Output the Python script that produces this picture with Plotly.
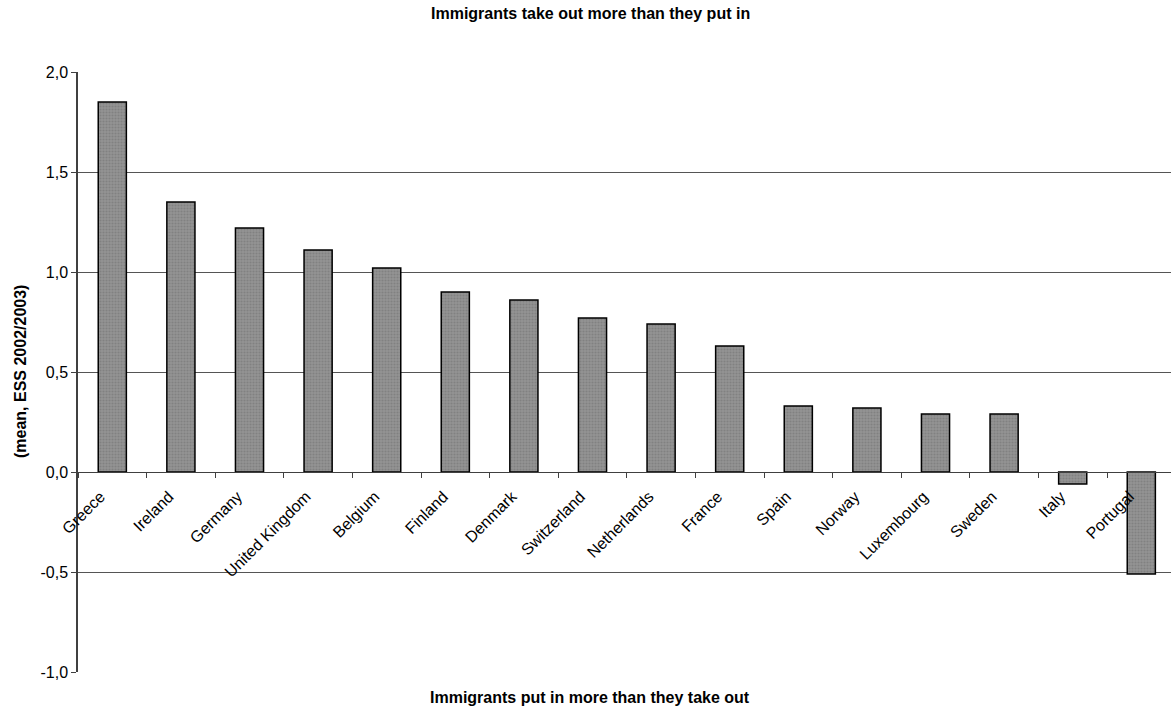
import plotly.graph_objects as go

countries = ["Greece", "Ireland", "Germany", "United Kingdom", "Belgium", "Finland",
             "Denmark", "Switzerland", "Netherlands", "France", "Spain", "Norway",
             "Luxembourg", "Sweden", "Italy", "Portugal"]
values = [1.85, 1.35, 1.22, 1.11, 1.02, 0.90, 0.86, 0.77, 0.74, 0.63,
          0.33, 0.32, 0.29, 0.29, -0.06, -0.51]
y_ticks = [-1.0, -0.5, 0.0, 0.5, 1.0, 1.5, 2.0]
y_ticktext = ["-1,0", "-0,5", "0,0", "0,5", "1,0", "1,5", "2,0"]

W, H = 1171, 715
ML, MR, MT, MB = 78, 0, 72, 43
pw = W - ML - MR
ph = H - MT - MB
cat_px = 68.6

font = "Liberation Sans, Arial, sans-serif"

fig = go.Figure(go.Bar(
    x=countries, y=values, width=0.41,
    marker=dict(color="#858585", line=dict(color="black", width=1.5),
                pattern=dict(shape=".", fgcolor="#6e6e6e", bgcolor="#949494", size=3, solidity=0.4)),
))

fig.update_layout(
    width=W, height=H,
    margin=dict(l=ML, r=MR, t=MT, b=MB),
    paper_bgcolor="white", plot_bgcolor="white",
    showlegend=False,
    font=dict(family=font, size=15, color="black"),
    xaxis=dict(
        type="category", range=[-0.5, -0.5 + pw / cat_px],
        anchor="free", position=1/3,
        showline=True, linecolor="#404040", linewidth=1,
        ticks="outside", tickson="boundaries", ticklen=5, tickcolor="#404040",
        tickangle=-45, tickfont=dict(size=16),
        ticklabelstandoff=8, ticklabelshift=-12,
        showgrid=False,
    ),
    yaxis=dict(
        range=[-1.0, 2.0], tickvals=y_ticks, ticktext=y_ticktext,
        showline=True, linecolor="#404040", linewidth=1.5,
        ticks="outside", ticklen=5, tickcolor="#404040",
        showgrid=True, gridcolor="#555555", gridwidth=1,
        zeroline=True, zerolinecolor="#404040", zerolinewidth=1,
        tickfont=dict(size=16),
    ),
    annotations=[
        dict(text="<b>Immigrants take out more than they put in</b>", xref="paper", yref="paper",
             x=(590 - ML) / pw, y=(H - MB - 14) / ph, showarrow=False,
             font=dict(size=16), xanchor="center", yanchor="middle"),
        dict(text="<b>Immigrants put in more than they take out</b>", xref="paper", yref="paper",
             x=(590 - ML) / pw, y=(H - MB - 697) / ph, showarrow=False,
             font=dict(size=16), xanchor="center", yanchor="middle"),
        dict(text="<b>(mean, ESS 2002/2003)</b>", xref="paper", yref="paper",
             x=(20 - ML) / pw, y=0.5, showarrow=False, textangle=-90,
             font=dict(size=16), xanchor="center", yanchor="middle"),
    ],
)

fig.write_html("out.html", config={"displayModeBar": False},
               post_script="document.body.style.margin='0';document.body.style.overflow='hidden';")
